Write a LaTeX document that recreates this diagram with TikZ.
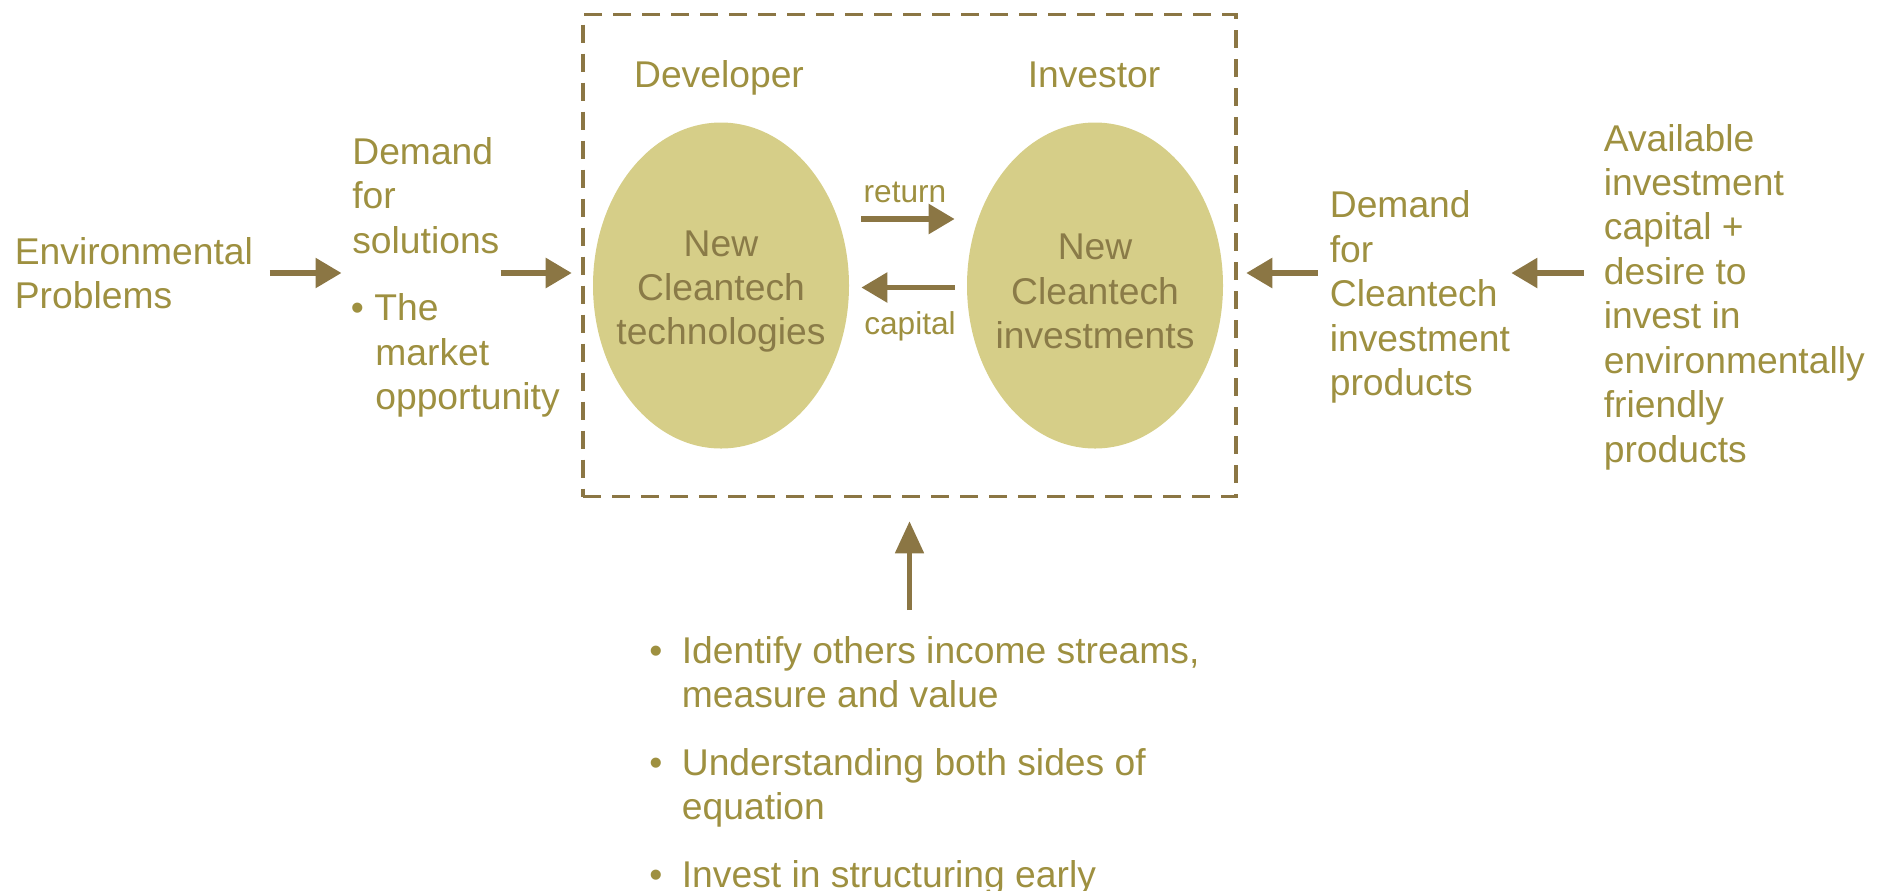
\documentclass[tikz,border=0pt]{standalone}
\usepackage{fontspec}
\setmainfont{Liberation Sans}
\usepackage{xcolor}
\usepackage{tikz}
\usetikzlibrary{positioning, shapes, calc, arrows, arrows.meta}

\definecolor{olivetext}{HTML}{9E9040}
\definecolor{blobtext}{HTML}{8A7B48}
\definecolor{flowbrown}{HTML}{8B7644}
\definecolor{blobfill}{HTML}{D6CE88}

\begin{document}
\begin{tikzpicture}

\tikzstyle{txt}=[inner sep=0pt, align=left, text=olivetext, font=\fontsize{21.2}{25.3}\selectfont]
\tikzstyle{smalltxt}=[inner sep=0pt, text=olivetext, font=\fontsize{18}{21}\selectfont]
\tikzstyle{blob}=[ellipse, fill=blobfill, minimum width=5.12cm, minimum height=6.52cm, inner sep=0pt]
\tikzstyle{blobtxt}=[inner sep=0pt, align=center, text=blobtext, font=\fontsize{21.2}{25.3}\selectfont]
\tikzstyle{flow}=[draw=flowbrown, line width=3.2pt, -{Triangle[length=0.52cm, width=0.58cm]}]
\tikzstyle{upflow}=[draw=flowbrown, line width=2.8pt, -{Triangle[length=0.64cm, width=0.56cm]}]

\useasboundingbox (0,0) rectangle (37.7,-17.8);

%% dashed box round developer and investor
\node (box) at (18.19,-5.11) [draw=flowbrown, line width=2pt, dash pattern=on 0.36cm off 0.22cm, minimum width=13.06cm, minimum height=9.64cm] {};

\node (dev) at (14.42,-5.71) [blob] {};
\node (devtxt) at ([yshift=-0.12cm]dev.center) [blobtxt] {New\\Cleantech\\technologies};
\node (inv) at (21.9,-5.71) [blob] {};
\node (invtxt) at ([yshift=-0.12cm]inv.center) [blobtxt] {New\\Cleantech\\investments};

\node (devlbl) at (14.38,-1.55) [txt] {Developer};
\node (invlbl) at (21.88,-1.49) [txt] {Investor};

\node (ret) at (18.1,-3.85) [smalltxt] {return};
\node (cap) at (18.2,-6.53) [smalltxt] {capital};

\draw [flow] ([xshift=0.24cm, yshift=1.33cm]dev.east) -- ([xshift=-0.24cm, yshift=1.33cm]inv.west);
\draw [flow] ([xshift=-0.24cm, yshift=-0.04cm]inv.west) -- ([xshift=0.24cm, yshift=-0.04cm]dev.east);

%% left side
\node (envp) at (0.29,-5.46) [txt, anchor=west] {Environmental\\Problems};
\node (demsol) at (7.04,-5.55) [txt, anchor=west] {Demand\\for\\solutions\\[0.46cm]\hspace*{-0.03cm}\textbullet\hspace{0.21cm}The\\\hspace*{0.46cm}market\\\hspace*{0.46cm}opportunity};

\draw [flow] ([xshift=0.33cm]envp.east) -- ($(demsol.west |- envp.east)+(-0.21,0)$);
\draw [flow] ($(box.west |- envp.east)+(-1.61,0)$) -- ($(box.west |- envp.east)+(-0.19,0)$);

%% right side
\node (demcl) at (26.59,-5.94) [txt, anchor=west] {Demand\\for\\Cleantech\\investment\\products};
\node (avail) at (32.07,-5.94) [txt, anchor=west] {Available\\investment\\capital +\\desire to\\invest in\\environmentally\\friendly\\products};

\draw [flow] ($(demcl.west |- envp.east)+(-0.24,0)$) -- ($(box.east |- envp.east)+(0.17,0)$);
\draw [flow] ($(avail.west |- envp.east)+(-0.4,0)$) -- ($(demcl.east |- envp.east)+(0.02,0)$);

%% bottom
\node (todo) at (12.98,-13.27) [inner sep=0pt, text=olivetext, font=\fontsize{21.2}{25.3}\selectfont, anchor=base west] {\begin{tabular}[t]{@{}l@{\hspace{0.39cm}}l@{}}
\textbullet & Identify others income streams,\\
 & measure and value\\[0.46cm]
\textbullet & Understanding both sides of\\
 & equation\\[0.46cm]
\textbullet & Invest in structuring early
\end{tabular}};

\draw [upflow] ($(box.south |- todo.north)+(0,0.44)$) -- ($(box.south)+(0,-0.46)$);

\end{tikzpicture}
\end{document}
